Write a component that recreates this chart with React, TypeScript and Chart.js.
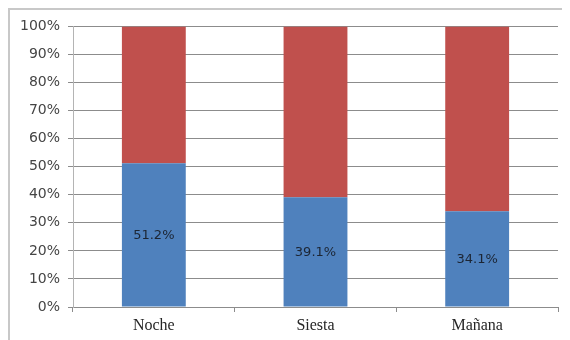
import React, { useEffect, useRef } from "react";
import { Chart, registerables } from "chart.js";

Chart.register(...registerables);

const categories = ["Noche", "Siesta", "Mañana"];
const blueValues = [51.2, 39.1, 34.1];
const redValues = [48.8, 60.9, 65.9];
const yTickStep = 10;

const blueColor = "#4f81bd";
const redColor = "#c0504d";
const gridColor = "#8c8c8c";

// Writes the percentage of the lower segment in the middle of each bar
const segmentLabels = {
  id: "segmentLabels",
  afterDatasetsDraw(chart: any) {
    const { ctx } = chart;
    const meta = chart.getDatasetMeta(0);
    ctx.save();
    ctx.font = "13px 'DejaVu Sans', sans-serif";
    ctx.fillStyle = "#1c2533";
    ctx.textAlign = "center";
    ctx.textBaseline = "middle";
    meta.data.forEach((bar: any, i: number) => {
      const { x, y, base } = bar.getProps(["x", "y", "base"], true);
      ctx.fillText(blueValues[i].toFixed(1) + "%", x, (y + base) / 2 + 1);
    });
    ctx.restore();
  },
};

export default function App() {
  const canvasRef = useRef<HTMLCanvasElement | null>(null);

  useEffect(() => {
    if (!canvasRef.current) return;
    const chart = new Chart(canvasRef.current, {
      type: "bar",
      data: {
        labels: categories,
        datasets: [
          {
            data: blueValues,
            backgroundColor: blueColor,
            categoryPercentage: 1,
            barPercentage: 0.395,
          },
          {
            data: redValues,
            backgroundColor: redColor,
            categoryPercentage: 1,
            barPercentage: 0.395,
          },
        ],
      },
      options: {
        animation: false,
        responsive: false,
        layout: { padding: { left: 0, right: 12, top: 16, bottom: 0 } },
        plugins: {
          legend: { display: false },
          tooltip: { enabled: false },
        },
        scales: {
          x: {
            stacked: true,
            afterFit: (axis: any) => {
              axis.height = 33;
            },
            grid: {
              drawOnChartArea: false,
              drawTicks: true,
              tickLength: 5,
              color: gridColor,
            },
            border: { display: true, color: gridColor },
            ticks: {
              color: "#262626",
              font: { family: "'Liberation Serif', serif", size: 16 },
              padding: 4,
            },
          },
          y: {
            stacked: true,
            min: 0,
            max: 100,
            afterFit: (axis: any) => {
              axis.width = 63;
            },
            grid: {
              color: gridColor,
              tickLength: 5,
            },
            border: { display: true, color: "#b4b4b4" },
            ticks: {
              stepSize: yTickStep,
              color: "#454545",
              padding: 8,
              font: { family: "'DejaVu Sans', sans-serif", size: 14 },
              callback: (v: any) => v + "%",
            },
          },
        },
      },
      plugins: [segmentLabels],
    });
    return () => chart.destroy();
  }, []);

  return (
    <div
      style={{
        borderTop: "2px solid #c8c8c8",
        borderLeft: "2px solid #c8c8c8",
        width: 560,
        height: 330,
        background: "#fff",
      }}
    >
      <canvas ref={canvasRef} width={560} height={330} style={{ display: "block" }} />
    </div>
  );
}
